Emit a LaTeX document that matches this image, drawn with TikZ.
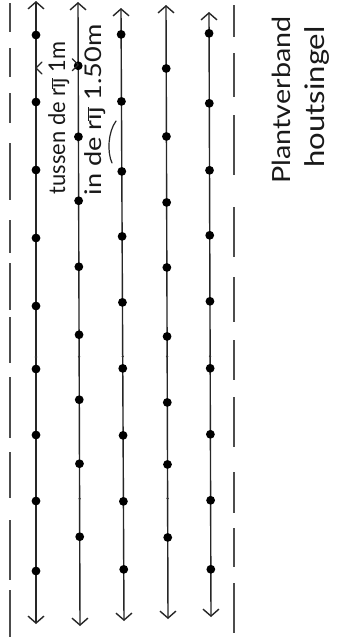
\documentclass[tikz,border=0pt]{standalone}
\usepackage{fontspec}
\newfontfamily\handA[FakeStretch=0.95]{Lato}
\newfontfamily\handB[FakeStretch=1.18]{Lato}
\newfontfamily\handC[FakeStretch=1.15]{Lato}
\usetikzlibrary{arrows.meta,calc}
\newcommand\rijbar{r$\overline{\mbox{ıȷ}}$}
\begin{document}
\begin{tikzpicture}[x=1pt,y=-1pt,
  >={Straight Barb[length=7pt,width=16pt,line width=1.4pt]},
  row/.style={line width=1.4pt, draw=black!85, <->},
  hedge/.style={line width=1.5pt, draw=black!70},
  plant/.style={fill=black},
  speck/.style={fill=black!80},
  hand/.style={inner sep=0pt, anchor=base, text=black!90, rotate=90},
  penline/.style={line width=1.2pt, draw=black!85, line cap=round, line join=round},
]
\useasboundingbox[fill=white] (0,0) rectangle (342,641);

% hedge borders (dashed, hand drawn segments)
\foreach \a/\b in {3/32,48/77,93/123,143/200,220/253,263/310,317/363,377/438,452/498,520/580,590/637}
  \draw[hedge] (10,\a) -- (10,\b);
\foreach \a/\b in {5/37,53/97,115/175,207/257,277/322,340/380,397/447,472/513,528/567,583/633}
  \draw[hedge] (234,\a) -- (234,\b);

% planting rows
\foreach \l/\xt/\yt/\xb/\yb in {1/36/1/36/624, 2/78/2/80/626, 3/121/8/124/621, 4/166/5/168/619, 5/209/12/211/617} {
  \coordinate (t\l) at (\xt,\yt);
  \coordinate (b\l) at (\xb,\yb);
  \draw[row] (t\l) -- (b\l);
}

% plants
\foreach \l/\ys in {1/{35,102,170,238,306,369,435,501,571},
                    2/{66,137,201,267,335,400,464,537},
                    3/{35,102,172,237,303,369,436,502,570},
                    4/{69,137,203,268,337,403,465,538},
                    5/{34,104,171,236,302,369,435,501,570}}
  \foreach \y in \ys
    \fill[plant] ($(t\l)!(0,\y)!(b\l)$) circle (4.4);

% small pencil specks
\foreach \l/\ys in {1/{357},2/{357,499},3/{357},4/{357,499},5/{357}}
  \foreach \y in \ys
    \fill[speck] ($(t\l)!(0,\y)!(b\l)$) circle (1.3);

% spacing between rows
\coordinate (mL) at ($(t1)!(0,68)!(b1)$);
\coordinate (mR) at ($(t2)!(0,65)!(b2)$);
\draw[penline] ($(mL)+(6,-6)$) -- (mL) -- ($(mL)+(6,6)$);
\draw[penline] ($(mR)+(-6,-6)$) -- (mR) -- ($(mR)+(-6,6)$);
\node[hand, font=\handA\fontsize{23}{23}\selectfont] (tussen) at (65,118) {tussen de \rijbar{} 1m};

% spacing within a row
\node[hand, font=\handB\fontsize{23}{23}\selectfont] (inde) at (101,110) {in de \rijbar{} 1.50m};
\draw[penline] (116,121) .. controls (108,132) and (107,152) .. (112,163);

% title
\node[hand, font=\handC\fontsize{25}{25}\selectfont] (plant) at (290,100) {Plantverband};
\node[hand, font=\handC\fontsize{27}{27}\selectfont] (hout) at (324,97) {houtsingel};
\end{tikzpicture}
\end{document}
